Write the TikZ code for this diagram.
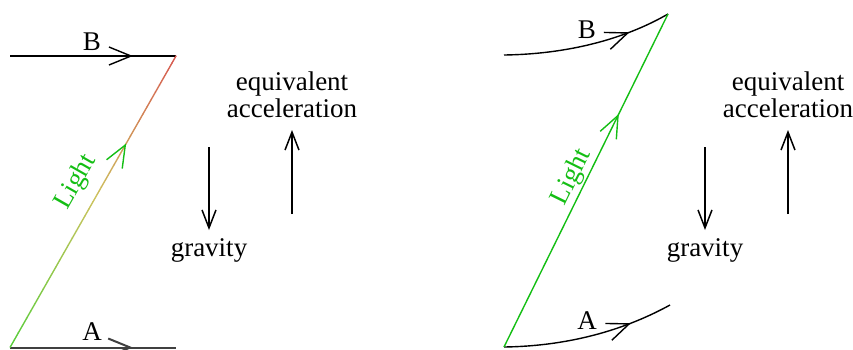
\documentclass[tikz,border=0pt]{standalone}
\usepackage{fontspec}
\setmainfont{Liberation Serif}
\usetikzlibrary{arrows.meta,decorations.markings,calc}
\definecolor{lightgreen}{RGB}{20,190,20}
\definecolor{gradgreen}{RGB}{90,205,60}
\definecolor{gradyellow}{RGB}{205,195,95}
\definecolor{gradred}{RGB}{215,85,80}

\begin{document}
\begin{tikzpicture}[
  x=0.5pt,y=-0.5pt,
  font=\fontsize{13.5}{11.2}\selectfont,
  ray/.style={line width=0.7pt,draw=black},
  floor/.style={line width=1pt,draw=black!75},
  force/.style={line width=0.75pt,-{Straight Barb[length=9pt,width=7pt]}},
  midarrow/.style={postaction={decorate,decoration={markings,
      mark=at position #1 with {\arrow{Straight Barb[length=11pt,width=9pt]}}}}},
  lbl/.style={inner sep=1pt},
  lighttext/.style={text=lightgreen,inner sep=1pt}
]
\useasboundingbox (0,0) rectangle (853,349);

% left: flat lines, light bent by colour
\coordinate (B0) at (10,56);
\coordinate (B1) at (176,56);
\coordinate (A1) at (10,347.5);
\coordinate (A0) at (176,347.5);

\draw[ray,midarrow=0.74] (B0) -- (B1);
\draw[floor,midarrow=0.74] (A1) -- (A0);
\node[lbl] (labB1) at (92,42) {B};
\node[lbl] (labA1) at (92,332) {A};

% gradient ray, green -> yellow -> red
\foreach \i in {0,...,39} {
  \pgfmathsetmacro\ta{\i/40}
  \pgfmathsetmacro\tb{(\i+1.05)/40}
  \ifnum\i<20
    \pgfmathtruncatemacro\pc{\i*5}
    \colorlet{segcol}{gradyellow!\pc!gradgreen}
  \else
    \pgfmathtruncatemacro\pc{(\i-20)*5}
    \colorlet{segcol}{gradred!\pc!gradyellow}
  \fi
  \draw[line width=0.7pt,draw=segcol] ($(A1)!\ta!(B1)$) -- ($(A1)!\tb!(B1)$);
}
\path[lightgreen,line width=0.7pt,midarrow=0.7] (A1) -- (B1);
\node[lighttext,rotate=60.3] (light1) at (76,182) {Light};

\coordinate (g1s) at (209,147);
\coordinate (g1e) at (209,230);
\draw[force] (g1s) -- (g1e);
\node (grav1) at (209,250) {gravity};

\coordinate (e1s) at (292,214);
\coordinate (e1e) at (292,130);
\draw[force] (e1s) -- (e1e);
\node[align=center] (equiv1) at (292,95) {equivalent\\acceleration};

% right: straight light, curved paths
\coordinate (B2s) at (504,55);
\coordinate (B2) at (668,14);
\coordinate (A2) at (504,347);
\coordinate (A2e) at (670,305);

\draw[ray,midarrow=0.75] (B2s) .. controls (575,54) and (630,36) .. (B2);
\draw[ray,midarrow=0.75] (A2) .. controls (575,346) and (630,327) .. (A2e);
\node[lbl] (labB2) at (587,30) {B};
\node[lbl] (labA2) at (587,321) {A};

\draw[line width=0.7pt,draw=lightgreen,midarrow=0.7] (A2) -- (B2);
\node[lighttext,rotate=63.8] (light2) at (572,177) {Light};

\coordinate (g2s) at (705,147);
\coordinate (g2e) at (705,230);
\draw[force] (g2s) -- (g2e);
\node (grav2) at (705,250) {gravity};

\coordinate (e2s) at (788,214);
\coordinate (e2e) at (788,130);
\draw[force] (e2s) -- (e2e);
\node[align=center] (equiv2) at (788,95) {equivalent\\acceleration};
\end{tikzpicture}
\end{document}
